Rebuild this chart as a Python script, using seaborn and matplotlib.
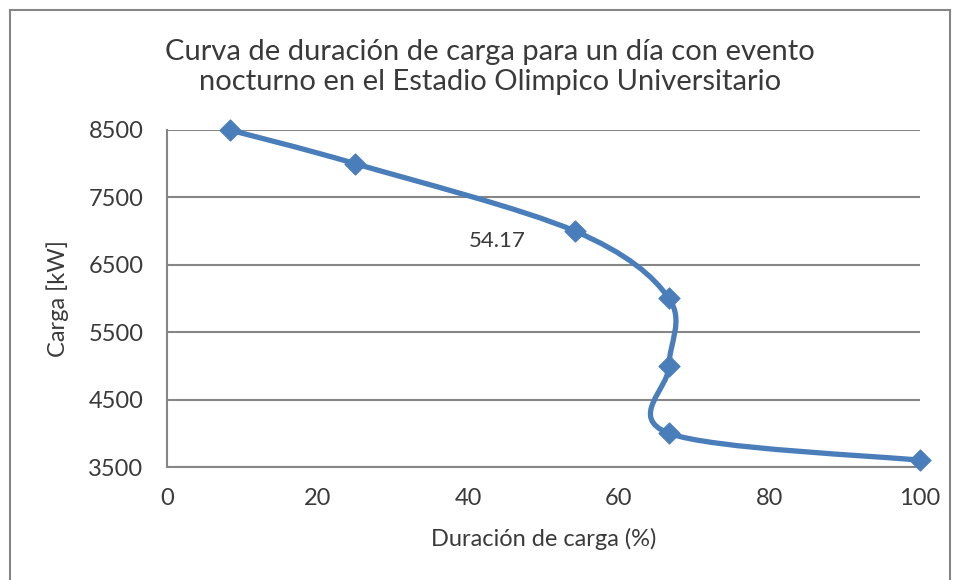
import numpy as np
import pandas as pd
import seaborn as sns
import matplotlib.pyplot as plt
from matplotlib.path import Path
from matplotlib.patches import PathPatch, Rectangle

sns.set_style("white")
plt.rcParams['font.family'] = ['Lato', 'DejaVu Sans']

# datos de la curva
duracion = [8.33, 25.0, 54.17, 66.67, 66.67, 66.67, 100.0]
carga = [8500, 8000, 7000, 6000, 5000, 4000, 3600]
etiqueta = "54.17"
y_ticks = [3500, 4500, 5500, 6500, 7500, 8500]
x_ticks = [0, 20, 40, 60, 80, 100]

df = pd.DataFrame({'duracion': duracion, 'carga': carga})

azul = '#4A7EBB'
gris = '#868686'
texto = '#3a3a3a'

fig = plt.figure(figsize=(9.57, 5.8), dpi=100)
ax = fig.add_axes([0.1745, 0.1948, 0.9613 - 0.1745, 0.7759 - 0.1948])
ax.set_xlim(0, 100)
ax.set_ylim(3500, 8500)

# linea suavizada estilo Excel (bezier) calculada en coordenadas de pantalla
xn = (df['duracion'].values - 0) / 100 * 753
yn = (df['carga'].values - 3500) / 5000 * 337
pts = np.column_stack([xn, yn])
verts = [pts[0]]
codes = [Path.MOVETO]
n = len(pts)
for i in range(n - 1):
    p0 = pts[max(i - 1, 0)]
    p1 = pts[i]
    p2 = pts[i + 1]
    p3 = pts[min(i + 2, n - 1)]
    c1 = p1 + (p2 - p0) / 6
    c2 = p2 - (p3 - p1) / 6
    verts += [c1, c2, p2]
    codes += [Path.CURVE4] * 3
verts = np.array(verts)
verts[:, 0] = verts[:, 0] / 753 * 100
verts[:, 1] = verts[:, 1] / 337 * 5000 + 3500
ax.add_patch(PathPatch(Path(verts, codes), facecolor='none', edgecolor=azul,
                       lw=3.8, capstyle='round', joinstyle='round', zorder=3,
                       clip_on=False))

sns.scatterplot(data=df, x='duracion', y='carga', marker='D', s=115,
                color=azul, edgecolor=azul, ax=ax, zorder=4, clip_on=False)

ax.annotate(etiqueta, (54.17, 7000), xytext=(-56, -7), textcoords='offset points',
            ha='center', va='center', fontsize=16, color=texto)

ax.set_xticks(x_ticks)
ax.set_yticks(y_ticks)
ax.tick_params(length=0, labelsize=17, labelcolor=texto)
ax.tick_params(axis='x', pad=15)
ax.tick_params(axis='y', pad=17)
ax.yaxis.grid(True, color=gris, lw=1.5)
ax.set_axisbelow(True)
for s in ['top', 'right']:
    ax.spines[s].set_visible(False)
for s in ['left', 'bottom']:
    ax.spines[s].set_color(gris)
    ax.spines[s].set_linewidth(1.5)

ax.set_xlabel('Duración de carga (%)', fontsize=17, color=texto, labelpad=14)
ax.set_ylabel('Carga [kW]', fontsize=17, color=texto, labelpad=14)
fig.text(0.512, 0.885, 'Curva de duración de carga para un día con evento\n'
         'nocturno en el Estadio Olimpico Universitario',
         ha='center', va='center', fontsize=21, color=texto, linespacing=1.2)

# borde del area del grafico
fig.patches.append(Rectangle((10 / 957, -0.1), 940 / 957, 1.1 - 10 / 580,
                             transform=fig.transFigure, fill=False,
                             edgecolor=gris, lw=1.5))

plt.savefig('out.png', dpi=100)
